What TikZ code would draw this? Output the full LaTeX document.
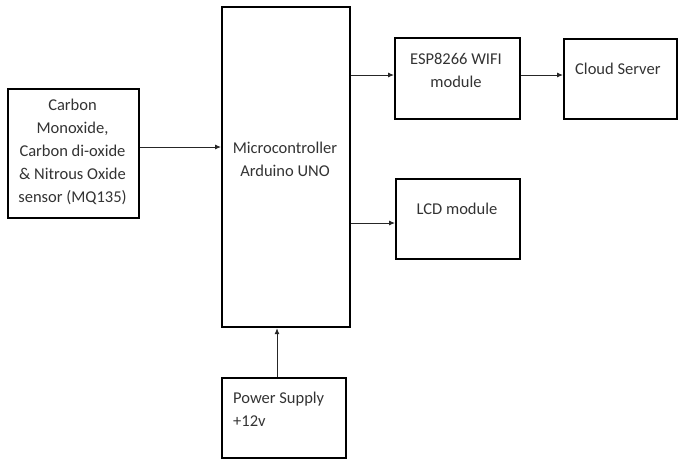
\documentclass[tikz,border=0pt]{standalone}
\usepackage{fontspec}
\setmainfont{Carlito}
\usetikzlibrary{arrows.meta}
\begin{document}
\begin{tikzpicture}[x=1pt,y=-1pt,
  blk/.style={draw=black,line width=2.2pt,inner sep=0pt,anchor=north west},
  txt/.style={font=\fontsize{16.5}{23}\selectfont,text=black!80,align=center,inner sep=0pt},
  ltxt/.style={font=\fontsize{16.5}{23}\selectfont,text=black!80,align=left,inner sep=0pt,anchor=west},
  conn/.style={draw=black!85,line width=0.9pt,-{Latex[length=6pt,width=5pt]}}]
\useasboundingbox (0,0) rectangle (678,459);
\node[blk,minimum width=131pt,minimum height=129pt] (sensor) at (7,88) {};
\node[blk,minimum width=128pt,minimum height=320pt] (mcu) at (221,6) {};
\node[blk,minimum width=125pt,minimum height=81pt] (esp) at (394,37) {};
\node[blk,minimum width=113pt,minimum height=80pt] (cloud) at (563,38) {};
\node[blk,minimum width=124pt,minimum height=80pt] (lcd) at (395,178) {};
\node[blk,minimum width=124pt,minimum height=80pt] (power) at (221,377) {};
\node[txt] (tsensor) at (72.5,152) {Carbon\\Monoxide,\\Carbon di-oxide\\\& Nitrous Oxide\\sensor (MQ135)};
\node[txt] (tmcu) at (285,159) {Microcontroller\\Arduino UNO};
\node[txt] (tesp) at (456,70) {ESP8266 WIFI\\module};
\node[ltxt] (tcloud) at (575,69) {Cloud Server};
\node[txt] (tlcd) at (457,209) {LCD module};
\node[ltxt] (tpower) at (233,409) {Power Supply\\+12v};
\draw[conn] (sensor.east |- 0,147) -- (mcu.west |- 0,147);
\draw[conn] (mcu.east |- 0,75) -- (esp.west |- 0,75);
\draw[conn] (esp.east |- 0,75) -- (cloud.west |- 0,75);
\draw[conn] (mcu.east |- 0,223) -- (lcd.west |- 0,223);
\draw[conn] (power.north -| 277,0) -- (mcu.south -| 277,0);
\end{tikzpicture}
\end{document}
